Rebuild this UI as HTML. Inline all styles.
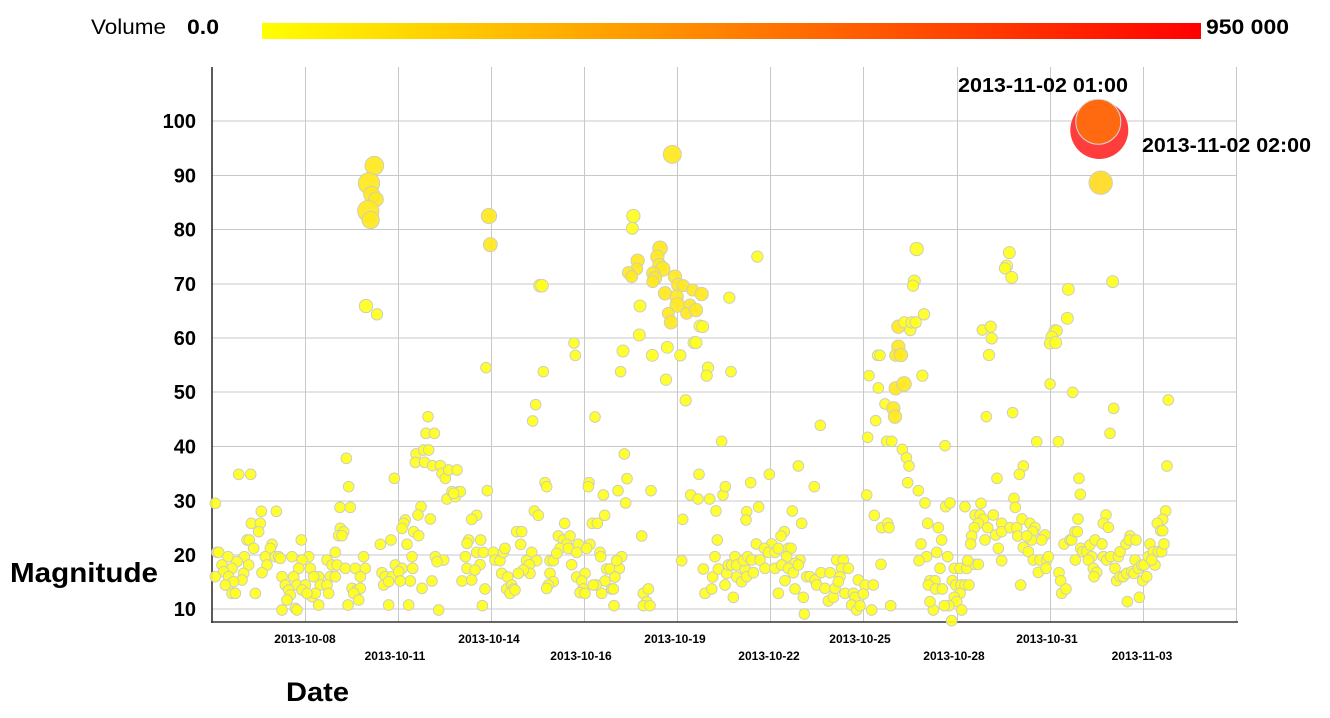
<!DOCTYPE html>
<html><head><meta charset="utf-8"><style>
html,body{margin:0;padding:0;background:#fff;}
svg{display:block;}
text{font-family:"Liberation Sans",sans-serif;fill:#000;}
.d circle{fill:#ffff1e;fill-opacity:0.92;stroke:#cfcfbc;stroke-width:3;}
.d circle.b{fill:#ffe81e;}
</style></head><body>
<svg width="1330" height="718" viewBox="0 0 1330 718" xmlns="http://www.w3.org/2000/svg">
<defs><linearGradient id="g" x1="0" x2="1" y1="0" y2="0"><stop offset="0" stop-color="#ffff00"/><stop offset="1" stop-color="#ff0000"/></linearGradient></defs>
<rect x="0" y="0" width="1330" height="718" fill="#fff"/>
<text x="91" y="34" font-size="21" textLength="75" lengthAdjust="spacingAndGlyphs">Volume</text>
<text x="187" y="34" font-size="21" font-weight="bold" textLength="32" lengthAdjust="spacingAndGlyphs">0.0</text>
<rect x="262" y="23" width="939" height="16" fill="url(#g)"/>
<text x="1206" y="34" font-size="21" font-weight="bold" textLength="83" lengthAdjust="spacingAndGlyphs">950 000</text>
<g stroke="#c8c8c8" stroke-width="1">
<line x1="212" y1="609" x2="1237" y2="609"/><line x1="212" y1="555" x2="1237" y2="555"/><line x1="212" y1="501" x2="1237" y2="501"/><line x1="212" y1="446.5" x2="1237" y2="446.5"/><line x1="212" y1="392" x2="1237" y2="392"/><line x1="212" y1="338" x2="1237" y2="338"/><line x1="212" y1="284" x2="1237" y2="284"/><line x1="212" y1="229.5" x2="1237" y2="229.5"/><line x1="212" y1="175.5" x2="1237" y2="175.5"/><line x1="212" y1="121" x2="1237" y2="121"/>
<line x1="305.5" y1="67" x2="305.5" y2="622"/><line x1="398.5" y1="67" x2="398.5" y2="622"/><line x1="491.5" y1="67" x2="491.5" y2="622"/><line x1="584.5" y1="67" x2="584.5" y2="622"/><line x1="677.5" y1="67" x2="677.5" y2="622"/><line x1="770.5" y1="67" x2="770.5" y2="622"/><line x1="863.5" y1="67" x2="863.5" y2="622"/><line x1="957.5" y1="67" x2="957.5" y2="622"/><line x1="1050.5" y1="67" x2="1050.5" y2="622"/><line x1="1143.5" y1="67" x2="1143.5" y2="622"/><line x1="1236.5" y1="67" x2="1236.5" y2="622"/>
</g>
<line x1="212" y1="67" x2="212" y2="623" stroke="#333" stroke-width="1.6"/>
<line x1="211" y1="622" x2="1238" y2="622" stroke="#333" stroke-width="1.6"/>
<g font-size="20" font-weight="bold" text-anchor="end">
<text x="196" y="616">10</text><text x="196" y="562">20</text><text x="196" y="508">30</text><text x="196" y="453.5">40</text><text x="196" y="399">50</text><text x="196" y="345">60</text><text x="196" y="291">70</text><text x="196" y="236.5">80</text><text x="196" y="182.5">90</text><text x="196" y="128">100</text>
</g>
<text x="10" y="582" font-size="28" font-weight="bold" textLength="148" lengthAdjust="spacingAndGlyphs">Magnitude</text>
<text x="286" y="701" font-size="27" font-weight="bold" textLength="63" lengthAdjust="spacingAndGlyphs">Date</text>
<g font-size="12" font-weight="bold" text-anchor="middle">
<text x="305" y="643">2013-10-08</text><text x="489" y="643">2013-10-14</text><text x="675" y="643">2013-10-19</text><text x="860" y="643">2013-10-25</text><text x="1047" y="643">2013-10-31</text>
<text x="395" y="660">2013-10-11</text><text x="581" y="660">2013-10-16</text><text x="769" y="660">2013-10-22</text><text x="954" y="660">2013-10-28</text><text x="1142" y="660">2013-11-03</text>
</g>

<g class="d" transform="translate(212,300) scale(0.33333)">
<circle cx="462" cy="18" r="20"/><circle cx="495" cy="43" r="17"/>
<circle cx="648" cy="350" r="16"/><circle cx="642" cy="400" r="16"/><circle cx="667" cy="400" r="16"/><circle cx="403" cy="475" r="16"/><circle cx="612" cy="462" r="16"/><circle cx="610" cy="487" r="16"/><circle cx="638" cy="487" r="16"/><circle cx="635" cy="450" r="16"/><circle cx="650" cy="450" r="16"/><circle cx="662" cy="497" r="16"/><circle cx="685" cy="497" r="16"/><circle cx="690" cy="520" r="16"/><circle cx="700" cy="535" r="16"/><circle cx="710" cy="510" r="16"/><circle cx="735" cy="510" r="16"/><circle cx="547" cy="535" r="16"/><circle cx="80" cy="523" r="16"/><circle cx="116" cy="523" r="16"/><circle cx="410" cy="560" r="16"/><circle cx="705" cy="597" r="16"/><circle cx="720" cy="575" r="16"/><circle cx="740" cy="575" r="16"/><circle cx="730" cy="590" r="16"/><circle cx="745" cy="575" r="16"/><circle cx="725" cy="580" r="16"/><circle cx="10" cy="610" r="16"/><circle cx="384" cy="622" r="16"/><circle cx="415" cy="622" r="16"/><circle cx="627" cy="620" r="16"/><circle cx="618" cy="645" r="16"/><circle cx="580" cy="660" r="16"/><circle cx="655" cy="657" r="16"/><circle cx="575" cy="670" r="16"/><circle cx="148" cy="634" r="16"/><circle cx="193" cy="634" r="16"/><circle cx="118" cy="670" r="16"/><circle cx="145" cy="670" r="16"/><circle cx="140" cy="695" r="16"/><circle cx="385" cy="685" r="16"/><circle cx="395" cy="695" r="16"/><circle cx="380" cy="707" r="16"/><circle cx="390" cy="707" r="16"/><circle cx="570" cy="685" r="16"/><circle cx="605" cy="695" r="16"/><circle cx="620" cy="707" r="16"/><circle cx="105" cy="720" r="16"/><circle cx="112" cy="720" r="16"/><circle cx="268" cy="720" r="16"/><circle cx="505" cy="733" r="16"/><circle cx="537" cy="720" r="16"/><circle cx="585" cy="733" r="16"/><circle cx="770" cy="720" r="16"/><circle cx="765" cy="730" r="16"/><circle cx="125" cy="745" r="16"/><circle cx="180" cy="733" r="16"/><circle cx="175" cy="745" r="16"/><circle cx="15" cy="757" r="16"/><circle cx="20" cy="757" r="16"/><circle cx="160" cy="770" r="16"/><circle cx="370" cy="757" r="16"/><circle cx="48" cy="770" r="16"/><circle cx="97" cy="770" r="16"/><circle cx="240" cy="770" r="16"/><circle cx="290" cy="770" r="16"/><circle cx="455" cy="770" r="16"/><circle cx="600" cy="770" r="16"/><circle cx="670" cy="770" r="16"/><circle cx="760" cy="770" r="16"/><circle cx="75" cy="785" r="16"/><circle cx="30" cy="795" r="16"/><circle cx="110" cy="795" r="16"/><circle cx="165" cy="795" r="16"/><circle cx="190" cy="770" r="16"/><circle cx="200" cy="770" r="16"/><circle cx="205" cy="775" r="16"/><circle cx="270" cy="780" r="16"/><circle cx="345" cy="780" r="16"/><circle cx="360" cy="795" r="16"/><circle cx="375" cy="795" r="16"/><circle cx="400" cy="805" r="16"/><circle cx="430" cy="805" r="16"/><circle cx="460" cy="805" r="16"/><circle cx="550" cy="795" r="16"/><circle cx="570" cy="805" r="16"/><circle cx="602" cy="805" r="16"/><circle cx="695" cy="780" r="16"/><circle cx="675" cy="785" r="16"/><circle cx="765" cy="805" r="16"/><circle cx="60" cy="805" r="16"/><circle cx="260" cy="805" r="16"/><circle cx="295" cy="805" r="16"/><circle cx="35" cy="815" r="16"/><circle cx="95" cy="820" r="16"/><circle cx="150" cy="818" r="16"/><circle cx="10" cy="830" r="16"/><circle cx="50" cy="830" r="16"/><circle cx="210" cy="830" r="16"/><circle cx="245" cy="830" r="16"/><circle cx="320" cy="830" r="16"/><circle cx="305" cy="830" r="16"/><circle cx="355" cy="830" r="16"/><circle cx="370" cy="830" r="16"/><circle cx="445" cy="830" r="16"/><circle cx="510" cy="818" r="16"/><circle cx="520" cy="830" r="16"/><circle cx="540" cy="830" r="16"/><circle cx="560" cy="815" r="16"/><circle cx="90" cy="840" r="16"/><circle cx="65" cy="845" r="16"/><circle cx="595" cy="843" r="16"/><circle cx="660" cy="843" r="16"/><circle cx="750" cy="843" r="16"/><circle cx="40" cy="855" r="16"/><circle cx="220" cy="855" r="16"/><circle cx="255" cy="855" r="16"/><circle cx="280" cy="855" r="16"/><circle cx="325" cy="855" r="16"/><circle cx="345" cy="855" r="16"/><circle cx="515" cy="855" r="16"/><circle cx="530" cy="845" r="16"/><circle cx="565" cy="843" r="16"/><circle cx="230" cy="870" r="16"/><circle cx="270" cy="870" r="16"/><circle cx="420" cy="865" r="16"/><circle cx="435" cy="870" r="16"/><circle cx="445" cy="865" r="16"/><circle cx="630" cy="865" r="16"/><circle cx="60" cy="880" r="16"/><circle cx="70" cy="880" r="16"/><circle cx="130" cy="880" r="16"/><circle cx="235" cy="885" r="16"/><circle cx="300" cy="890" r="16"/><circle cx="310" cy="880" r="16"/><circle cx="285" cy="880" r="16"/><circle cx="350" cy="880" r="16"/><circle cx="425" cy="880" r="16"/><circle cx="225" cy="900" r="16"/><circle cx="440" cy="900" r="16"/><circle cx="250" cy="925" r="16"/><circle cx="210" cy="930" r="16"/><circle cx="320" cy="915" r="16"/><circle cx="408" cy="915" r="16"/><circle cx="530" cy="915" r="16"/><circle cx="590" cy="915" r="16"/><circle cx="680" cy="930" r="16"/><circle cx="255" cy="930" r="16"/>
</g>

<g class="d" transform="translate(340,150) scale(0.33333)">
<circle class="b" cx="103" cy="47" r="28"/><circle class="b" cx="87" cy="100" r="32"/><circle class="b" cx="95" cy="133" r="24"/><circle class="b" cx="108" cy="148" r="22"/><circle class="b" cx="85" cy="183" r="32"/><circle class="b" cx="92" cy="210" r="26"/>
</g>

<g class="d" transform="translate(470,140) scale(0.33333)">
<circle class="b" cx="607" cy="43" r="27"/><circle class="b" cx="57" cy="228" r="23"/><circle class="b" cx="61" cy="314" r="21"/><circle cx="210" cy="437" r="19"/><circle cx="216" cy="437" r="19"/><circle cx="312" cy="609" r="16"/><circle cx="316" cy="646" r="16"/><circle cx="48" cy="683" r="16"/><circle cx="220" cy="695" r="16"/><circle cx="197" cy="794" r="16"/><circle cx="188" cy="843" r="16"/><circle cx="375" cy="831" r="16"/>
<circle cx="490" cy="228" r="20"/><circle cx="487" cy="265" r="18"/>
<circle class="b" cx="570" cy="325" r="22"/><circle class="b" cx="562" cy="350" r="20"/><circle class="b" cx="568" cy="375" r="20"/><circle class="b" cx="578" cy="387" r="22"/><circle class="b" cx="503" cy="362" r="20"/><circle class="b" cx="500" cy="387" r="18"/><circle class="b" cx="475" cy="398" r="18"/><circle class="b" cx="485" cy="410" r="18"/><circle class="b" cx="550" cy="400" r="20"/><circle class="b" cx="555" cy="415" r="20"/><circle class="b" cx="548" cy="425" r="18"/><circle class="b" cx="615" cy="410" r="20"/><circle class="b" cx="625" cy="435" r="20"/><circle class="b" cx="640" cy="437" r="18"/><circle class="b" cx="668" cy="450" r="18"/><circle class="b" cx="695" cy="462" r="20"/><circle class="b" cx="585" cy="460" r="20"/><circle class="b" cx="620" cy="470" r="20"/><circle class="b" cx="622" cy="495" r="22"/><circle class="b" cx="660" cy="495" r="18"/><circle class="b" cx="650" cy="520" r="18"/><circle class="b" cx="678" cy="510" r="20"/><circle class="b" cx="595" cy="520" r="18"/><circle class="b" cx="603" cy="547" r="20"/><circle cx="690" cy="558" r="18"/><circle cx="698" cy="560" r="18"/><circle cx="672" cy="608" r="18"/><circle cx="678" cy="608" r="18"/><circle cx="510" cy="498" r="18"/><circle cx="508" cy="585" r="18"/><circle cx="778" cy="473" r="17"/>
<circle cx="459" cy="633" r="18"/><circle cx="547" cy="646" r="18"/><circle cx="592" cy="622" r="18"/><circle cx="631" cy="646" r="17"/><circle cx="452" cy="695" r="16"/><circle cx="588" cy="719" r="17"/><circle cx="714" cy="683" r="17"/><circle cx="710" cy="707" r="17"/><circle cx="783" cy="695" r="16"/><circle cx="647" cy="781" r="17"/><circle cx="755" cy="904" r="16"/>
<circle cx="463" cy="942" r="16"/><circle cx="471" cy="1016" r="16"/><circle cx="467" cy="1089" r="16"/><circle cx="444" cy="1052" r="16"/><circle cx="543" cy="1052" r="16"/><circle cx="687" cy="1003" r="16"/><circle cx="662" cy="1065" r="16"/><circle cx="684" cy="1077" r="16"/><circle cx="719" cy="1077" r="16"/><circle cx="759" cy="1065" r="16"/><circle cx="766" cy="1040" r="16"/><circle cx="738" cy="1113" r="16"/><circle cx="638" cy="1138" r="16"/><circle cx="742" cy="1200" r="16"/><circle cx="515" cy="1188" r="16"/><circle cx="635" cy="1262" r="16"/>
<circle cx="52" cy="1052" r="16"/><circle cx="225" cy="1028" r="16"/><circle cx="230" cy="1040" r="16"/><circle cx="357" cy="1028" r="16"/><circle cx="355" cy="1040" r="16"/><circle cx="400" cy="1065" r="16"/><circle cx="404" cy="1126" r="16"/><circle cx="367" cy="1150" r="16"/><circle cx="382" cy="1150" r="16"/><circle cx="284" cy="1150" r="16"/><circle cx="193" cy="1113" r="16"/><circle cx="205" cy="1126" r="16"/><circle cx="20" cy="1126" r="16"/><circle cx="5" cy="1138" r="16"/>
<circle cx="32" cy="1200" r="16"/><circle cx="20" cy="1237" r="16"/><circle cx="40" cy="1237" r="16"/><circle cx="70" cy="1237" r="16"/><circle cx="75" cy="1260" r="16"/><circle cx="90" cy="1262" r="16"/><circle cx="100" cy="1237" r="16"/><circle cx="105" cy="1225" r="16"/><circle cx="30" cy="1274" r="16"/><circle cx="15" cy="1290" r="16"/><circle cx="5" cy="1320" r="16"/><circle cx="95" cy="1300" r="16"/><circle cx="113" cy="1311" r="16"/><circle cx="110" cy="1347" r="16"/><circle cx="125" cy="1335" r="16"/><circle cx="130" cy="1347" r="16"/><circle cx="120" cy="1360" r="16"/><circle cx="135" cy="1350" r="16"/><circle cx="45" cy="1347" r="16"/><circle cx="37" cy="1397" r="16"/><circle cx="140" cy="1175" r="16"/><circle cx="155" cy="1175" r="16"/><circle cx="152" cy="1213" r="16"/><circle cx="185" cy="1237" r="16"/><circle cx="200" cy="1262" r="16"/><circle cx="170" cy="1262" r="16"/><circle cx="178" cy="1274" r="16"/><circle cx="180" cy="1300" r="16"/><circle cx="160" cy="1290" r="16"/><circle cx="145" cy="1300" r="16"/><circle cx="240" cy="1262" r="16"/><circle cx="250" cy="1262" r="16"/><circle cx="240" cy="1300" r="16"/><circle cx="250" cy="1325" r="16"/><circle cx="235" cy="1335" r="16"/><circle cx="230" cy="1345" r="16"/><circle cx="265" cy="1188" r="16"/><circle cx="280" cy="1200" r="16"/><circle cx="300" cy="1188" r="16"/><circle cx="290" cy="1213" r="16"/><circle cx="270" cy="1225" r="16"/><circle cx="260" cy="1240" r="16"/><circle cx="295" cy="1225" r="16"/><circle cx="325" cy="1213" r="16"/><circle cx="320" cy="1237" r="16"/><circle cx="305" cy="1274" r="16"/><circle cx="320" cy="1311" r="16"/><circle cx="345" cy="1300" r="16"/><circle cx="335" cy="1323" r="16"/><circle cx="340" cy="1347" r="16"/><circle cx="330" cy="1358" r="16"/><circle cx="345" cy="1360" r="16"/><circle cx="360" cy="1213" r="16"/><circle cx="350" cy="1225" r="16"/><circle cx="390" cy="1237" r="16"/><circle cx="392" cy="1250" r="16"/><circle cx="410" cy="1287" r="16"/><circle cx="420" cy="1287" r="16"/><circle cx="448" cy="1285" r="16"/><circle cx="455" cy="1250" r="16"/><circle cx="440" cy="1262" r="16"/><circle cx="435" cy="1311" r="16"/><circle cx="405" cy="1323" r="16"/><circle cx="425" cy="1347" r="16"/><circle cx="430" cy="1347" r="16"/><circle cx="395" cy="1360" r="16"/><circle cx="378" cy="1335" r="16"/><circle cx="370" cy="1335" r="16"/><circle cx="432" cy="1397" r="16"/><circle cx="520" cy="1360" r="16"/><circle cx="535" cy="1347" r="16"/><circle cx="530" cy="1385" r="16"/><circle cx="520" cy="1397" r="16"/><circle cx="540" cy="1397" r="16"/>
<circle cx="700" cy="1287" r="16"/><circle cx="705" cy="1360" r="16"/><circle cx="725" cy="1347" r="16"/><circle cx="728" cy="1311" r="16"/><circle cx="735" cy="1250" r="16"/><circle cx="745" cy="1287" r="16"/><circle cx="765" cy="1335" r="16"/><circle cx="770" cy="1300" r="16"/><circle cx="775" cy="1275" r="16"/><circle cx="785" cy="1275" r="16"/><circle cx="795" cy="1250" r="16"/><circle cx="800" cy="1275" r="16"/><circle cx="790" cy="1372" r="16"/><circle cx="800" cy="1311" r="16"/><circle cx="815" cy="1325" r="16"/><circle cx="825" cy="1287" r="16"/><circle cx="820" cy="1262" r="16"/>
</g>

<g class="d" transform="translate(745,200) scale(0.33333)">
<circle cx="37" cy="170" r="17"/><circle cx="515" cy="147" r="20"/><circle cx="508" cy="243" r="18"/><circle cx="504" cy="257" r="17"/>
<circle cx="537" cy="343" r="17"/><circle class="b" cx="460" cy="380" r="20"/><circle cx="478" cy="367" r="17"/><circle cx="496" cy="390" r="17"/><circle cx="500" cy="367" r="17"/><circle cx="512" cy="367" r="17"/>
<circle cx="398" cy="466" r="16"/><circle cx="405" cy="466" r="16"/><circle class="b" cx="460" cy="440" r="20"/><circle class="b" cx="452" cy="466" r="18"/><circle class="b" cx="468" cy="465" r="20"/>
<circle cx="372" cy="527" r="16"/><circle cx="400" cy="564" r="16"/><circle class="b" cx="452" cy="565" r="20"/><circle class="b" cx="477" cy="552" r="22"/><circle cx="532" cy="527" r="17"/>
<circle cx="420" cy="612" r="16"/><circle class="b" cx="445" cy="625" r="20"/><circle class="b" cx="450" cy="650" r="20"/><circle cx="392" cy="662" r="16"/><circle cx="368" cy="712" r="16"/><circle cx="425" cy="724" r="16"/><circle cx="440" cy="724" r="16"/><circle cx="472" cy="748" r="16"/><circle cx="484" cy="773" r="16"/><circle cx="492" cy="798" r="16"/><circle cx="488" cy="848" r="16"/><circle cx="520" cy="872" r="16"/><circle cx="540" cy="909" r="16"/><circle cx="602" cy="920" r="16"/><circle cx="615" cy="909" r="16"/><circle cx="600" cy="737" r="16"/>
<circle cx="226" cy="676" r="16"/><circle cx="160" cy="798" r="16"/><circle cx="73" cy="823" r="16"/><circle cx="17" cy="848" r="16"/><circle cx="208" cy="860" r="16"/><circle cx="365" cy="885" r="16"/>
<circle cx="712" cy="390" r="16"/><circle cx="737" cy="380" r="17"/><circle cx="740" cy="415" r="17"/><circle cx="732" cy="465" r="17"/><circle cx="724" cy="650" r="16"/><circle cx="756" cy="835" r="16"/>
<circle cx="41" cy="921" r="16"/><circle cx="5" cy="935" r="16"/><circle cx="3" cy="960" r="16"/><circle cx="142" cy="933" r="16"/><circle cx="170" cy="970" r="16"/><circle cx="118" cy="995" r="16"/><circle cx="108" cy="1008" r="16"/><circle cx="34" cy="1032" r="16"/><circle cx="80" cy="1032" r="16"/><circle cx="58" cy="1045" r="16"/><circle cx="70" cy="1057" r="16"/><circle cx="90" cy="1057" r="16"/><circle cx="100" cy="1045" r="16"/><circle cx="130" cy="1045" r="16"/><circle cx="138" cy="1045" r="16"/><circle cx="125" cy="1070" r="16"/><circle cx="165" cy="1080" r="16"/><circle cx="150" cy="1090" r="16"/><circle cx="8" cy="1070" r="16"/><circle cx="20" cy="1080" r="16"/><circle cx="5" cy="1130" r="16"/><circle cx="25" cy="1118" r="16"/><circle cx="45" cy="1080" r="16"/><circle cx="60" cy="1105" r="16"/><circle cx="90" cy="1105" r="16"/><circle cx="110" cy="1095" r="16"/><circle cx="130" cy="1105" r="16"/><circle cx="145" cy="1118" r="16"/><circle cx="160" cy="1095" r="16"/><circle cx="120" cy="1142" r="16"/><circle cx="100" cy="1180" r="16"/><circle cx="150" cy="1167" r="16"/><circle cx="175" cy="1192" r="16"/><circle cx="178" cy="1242" r="16"/>
<circle cx="185" cy="1130" r="16"/><circle cx="195" cy="1130" r="16"/><circle cx="210" cy="1140" r="16"/><circle cx="215" cy="1155" r="16"/><circle cx="228" cy="1118" r="16"/><circle cx="255" cy="1118" r="16"/><circle cx="240" cy="1165" r="16"/><circle cx="250" cy="1203" r="16"/><circle cx="265" cy="1192" r="16"/><circle cx="270" cy="1165" r="16"/><circle cx="275" cy="1080" r="16"/><circle cx="295" cy="1080" r="16"/><circle cx="290" cy="1105" r="16"/><circle cx="310" cy="1105" r="16"/><circle cx="285" cy="1130" r="16"/><circle cx="280" cy="1145" r="16"/><circle cx="300" cy="1180" r="16"/><circle cx="325" cy="1180" r="16"/><circle cx="330" cy="1192" r="16"/><circle cx="320" cy="1215" r="16"/><circle cx="335" cy="1230" r="16"/><circle cx="345" cy="1217" r="16"/><circle cx="340" cy="1140" r="16"/><circle cx="360" cy="1155" r="16"/><circle cx="385" cy="1155" r="16"/><circle cx="355" cy="1182" r="16"/><circle cx="380" cy="1230" r="16"/><circle cx="437" cy="1217" r="16"/><circle cx="408" cy="1093" r="16"/>
<circle cx="388" cy="946" r="16"/><circle cx="410" cy="983" r="16"/><circle cx="428" cy="970" r="16"/><circle cx="432" cy="983" r="16"/>
<circle cx="548" cy="970" r="16"/><circle cx="580" cy="983" r="16"/><circle cx="590" cy="1020" r="16"/><circle cx="528" cy="1032" r="16"/><circle cx="545" cy="1070" r="16"/><circle cx="522" cy="1082" r="16"/><circle cx="575" cy="1057" r="16"/><circle cx="608" cy="1070" r="16"/><circle cx="585" cy="1105" r="16"/><circle cx="555" cy="1142" r="16"/><circle cx="570" cy="1142" r="16"/><circle cx="550" cy="1155" r="16"/><circle cx="572" cy="1167" r="16"/><circle cx="592" cy="1167" r="16"/><circle cx="622" cy="1142" r="16"/><circle cx="632" cy="1155" r="16"/><circle cx="648" cy="1155" r="16"/><circle cx="660" cy="1155" r="16"/><circle cx="672" cy="1155" r="16"/><circle cx="628" cy="1105" r="16"/><circle cx="645" cy="1105" r="16"/><circle cx="665" cy="1105" r="16"/><circle cx="645" cy="1180" r="16"/><circle cx="628" cy="1192" r="16"/><circle cx="635" cy="1205" r="16"/><circle cx="650" cy="1230" r="16"/><circle cx="620" cy="1262" r="16"/><circle cx="612" cy="1217" r="16"/><circle cx="598" cy="1217" r="16"/><circle cx="565" cy="1230" r="16"/><circle cx="555" cy="1205" r="16"/>
<circle cx="660" cy="920" r="16"/><circle cx="708" cy="910" r="16"/><circle cx="690" cy="945" r="16"/><circle cx="705" cy="945" r="16"/><circle cx="715" cy="958" r="16"/><circle cx="745" cy="945" r="16"/><circle cx="700" cy="970" r="16"/><circle cx="728" cy="983" r="16"/><circle cx="688" cy="983" r="16"/><circle cx="680" cy="1008" r="16"/><circle cx="677" cy="1032" r="16"/><circle cx="720" cy="1020" r="16"/><circle cx="752" cy="1005" r="16"/><circle cx="770" cy="970" r="16"/><circle cx="770" cy="995" r="16"/><circle cx="760" cy="1045" r="16"/><circle cx="770" cy="1082" r="16"/><circle cx="690" cy="1093" r="16"/><circle cx="700" cy="1093" r="16"/><circle cx="668" cy="1082" r="16"/>
</g>

<g class="d" transform="translate(990,160) scale(0.33333)">
<circle cx="58" cy="278" r="18"/><circle cx="50" cy="318" r="18"/><circle cx="45" cy="325" r="17"/><circle cx="65" cy="352" r="18"/>
<circle cx="235" cy="388" r="18"/><circle cx="368" cy="365" r="18"/><circle cx="232" cy="475" r="18"/><circle cx="195" cy="512" r="18"/><circle cx="200" cy="512" r="17"/><circle cx="185" cy="530" r="17"/><circle cx="180" cy="550" r="17"/><circle cx="197" cy="548" r="18"/>
<circle cx="180" cy="672" r="16"/><circle cx="248" cy="697" r="16"/><circle cx="535" cy="720" r="16"/><circle cx="371" cy="745" r="16"/><circle cx="360" cy="820" r="16"/><circle cx="68" cy="758" r="16"/><circle cx="140" cy="845" r="16"/><circle cx="205" cy="845" r="16"/>
<circle cx="531" cy="918" r="16"/><circle cx="267" cy="955" r="16"/><circle cx="271" cy="1003" r="16"/><circle cx="100" cy="918" r="16"/><circle cx="88" cy="943" r="16"/>
<circle cx="72" cy="1015" r="16"/><circle cx="76" cy="1042" r="16"/><circle cx="348" cy="1065" r="16"/><circle cx="340" cy="1090" r="16"/><circle cx="355" cy="1102" r="16"/><circle cx="264" cy="1077" r="16"/><circle cx="527" cy="1053" r="16"/><circle cx="518" cy="1078" r="16"/><circle cx="502" cy="1090" r="16"/><circle cx="512" cy="1112" r="16"/><circle cx="518" cy="1112" r="16"/>
<circle cx="60" cy="1103" r="16"/><circle cx="80" cy="1103" r="16"/><circle cx="83" cy="1128" r="16"/><circle cx="96" cy="1077" r="16"/><circle cx="120" cy="1090" r="16"/><circle cx="135" cy="1103" r="16"/><circle cx="128" cy="1115" r="16"/><circle cx="125" cy="1140" r="16"/><circle cx="110" cy="1128" r="16"/><circle cx="100" cy="1162" r="16"/><circle cx="115" cy="1175" r="16"/><circle cx="130" cy="1200" r="16"/><circle cx="150" cy="1200" r="16"/><circle cx="170" cy="1200" r="16"/><circle cx="160" cy="1130" r="16"/><circle cx="165" cy="1125" r="16"/><circle cx="155" cy="1140" r="16"/><circle cx="175" cy="1190" r="16"/><circle cx="145" cy="1237" r="16"/><circle cx="168" cy="1225" r="16"/><circle cx="92" cy="1275" r="16"/><circle cx="207" cy="1238" r="16"/><circle cx="212" cy="1262" r="16"/><circle cx="215" cy="1300" r="16"/><circle cx="228" cy="1287" r="16"/><circle cx="222" cy="1152" r="16"/><circle cx="240" cy="1140" r="16"/><circle cx="245" cy="1140" r="16"/><circle cx="255" cy="1115" r="16"/><circle cx="262" cy="1115" r="16"/><circle cx="256" cy="1200" r="16"/><circle cx="272" cy="1165" r="16"/><circle cx="278" cy="1175" r="16"/><circle cx="290" cy="1175" r="16"/><circle cx="300" cy="1155" r="16"/><circle cx="315" cy="1140" r="16"/><circle cx="305" cy="1190" r="16"/><circle cx="295" cy="1200" r="16"/><circle cx="310" cy="1225" r="16"/><circle cx="320" cy="1237" r="16"/><circle cx="312" cy="1250" r="16"/><circle cx="336" cy="1152" r="16"/><circle cx="340" cy="1190" r="16"/><circle cx="350" cy="1200" r="16"/><circle cx="362" cy="1190" r="16"/><circle cx="375" cy="1225" r="16"/><circle cx="385" cy="1190" r="16"/><circle cx="390" cy="1175" r="16"/><circle cx="408" cy="1152" r="16"/><circle cx="420" cy="1128" r="16"/><circle cx="418" cy="1140" r="16"/><circle cx="438" cy="1140" r="16"/><circle cx="380" cy="1262" r="16"/><circle cx="390" cy="1250" r="16"/><circle cx="400" cy="1250" r="16"/><circle cx="410" cy="1240" r="16"/><circle cx="425" cy="1235" r="16"/><circle cx="435" cy="1200" r="16"/><circle cx="432" cy="1240" r="16"/><circle cx="445" cy="1225" r="16"/><circle cx="455" cy="1215" r="16"/><circle cx="462" cy="1215" r="16"/><circle cx="458" cy="1262" r="16"/><circle cx="470" cy="1250" r="16"/><circle cx="480" cy="1152" r="16"/><circle cx="475" cy="1190" r="16"/><circle cx="490" cy="1175" r="16"/><circle cx="505" cy="1175" r="16"/><circle cx="515" cy="1175" r="16"/><circle cx="522" cy="1152" r="16"/><circle cx="495" cy="1215" r="16"/><circle cx="485" cy="1200" r="16"/><circle cx="412" cy="1325" r="16"/><circle cx="448" cy="1312" r="16"/>
</g>

<circle cx="1099.3" cy="130" r="29" fill="#ff3333" fill-opacity="0.95"/>
<circle cx="1098.3" cy="121.7" r="22.5" fill="#ff6a10" stroke="#d8d8d8" stroke-width="1"/>
<circle cx="1100.7" cy="182.7" r="11.7" fill="#ffdd33" stroke="#d0d0c0" stroke-width="1"/>
<text x="958" y="92" font-size="20" font-weight="bold" textLength="170" lengthAdjust="spacingAndGlyphs">2013-11-02 01:00</text>
<text x="1142" y="152" font-size="20" font-weight="bold" textLength="169" lengthAdjust="spacingAndGlyphs">2013-11-02 02:00</text>
</svg>
</body></html>
